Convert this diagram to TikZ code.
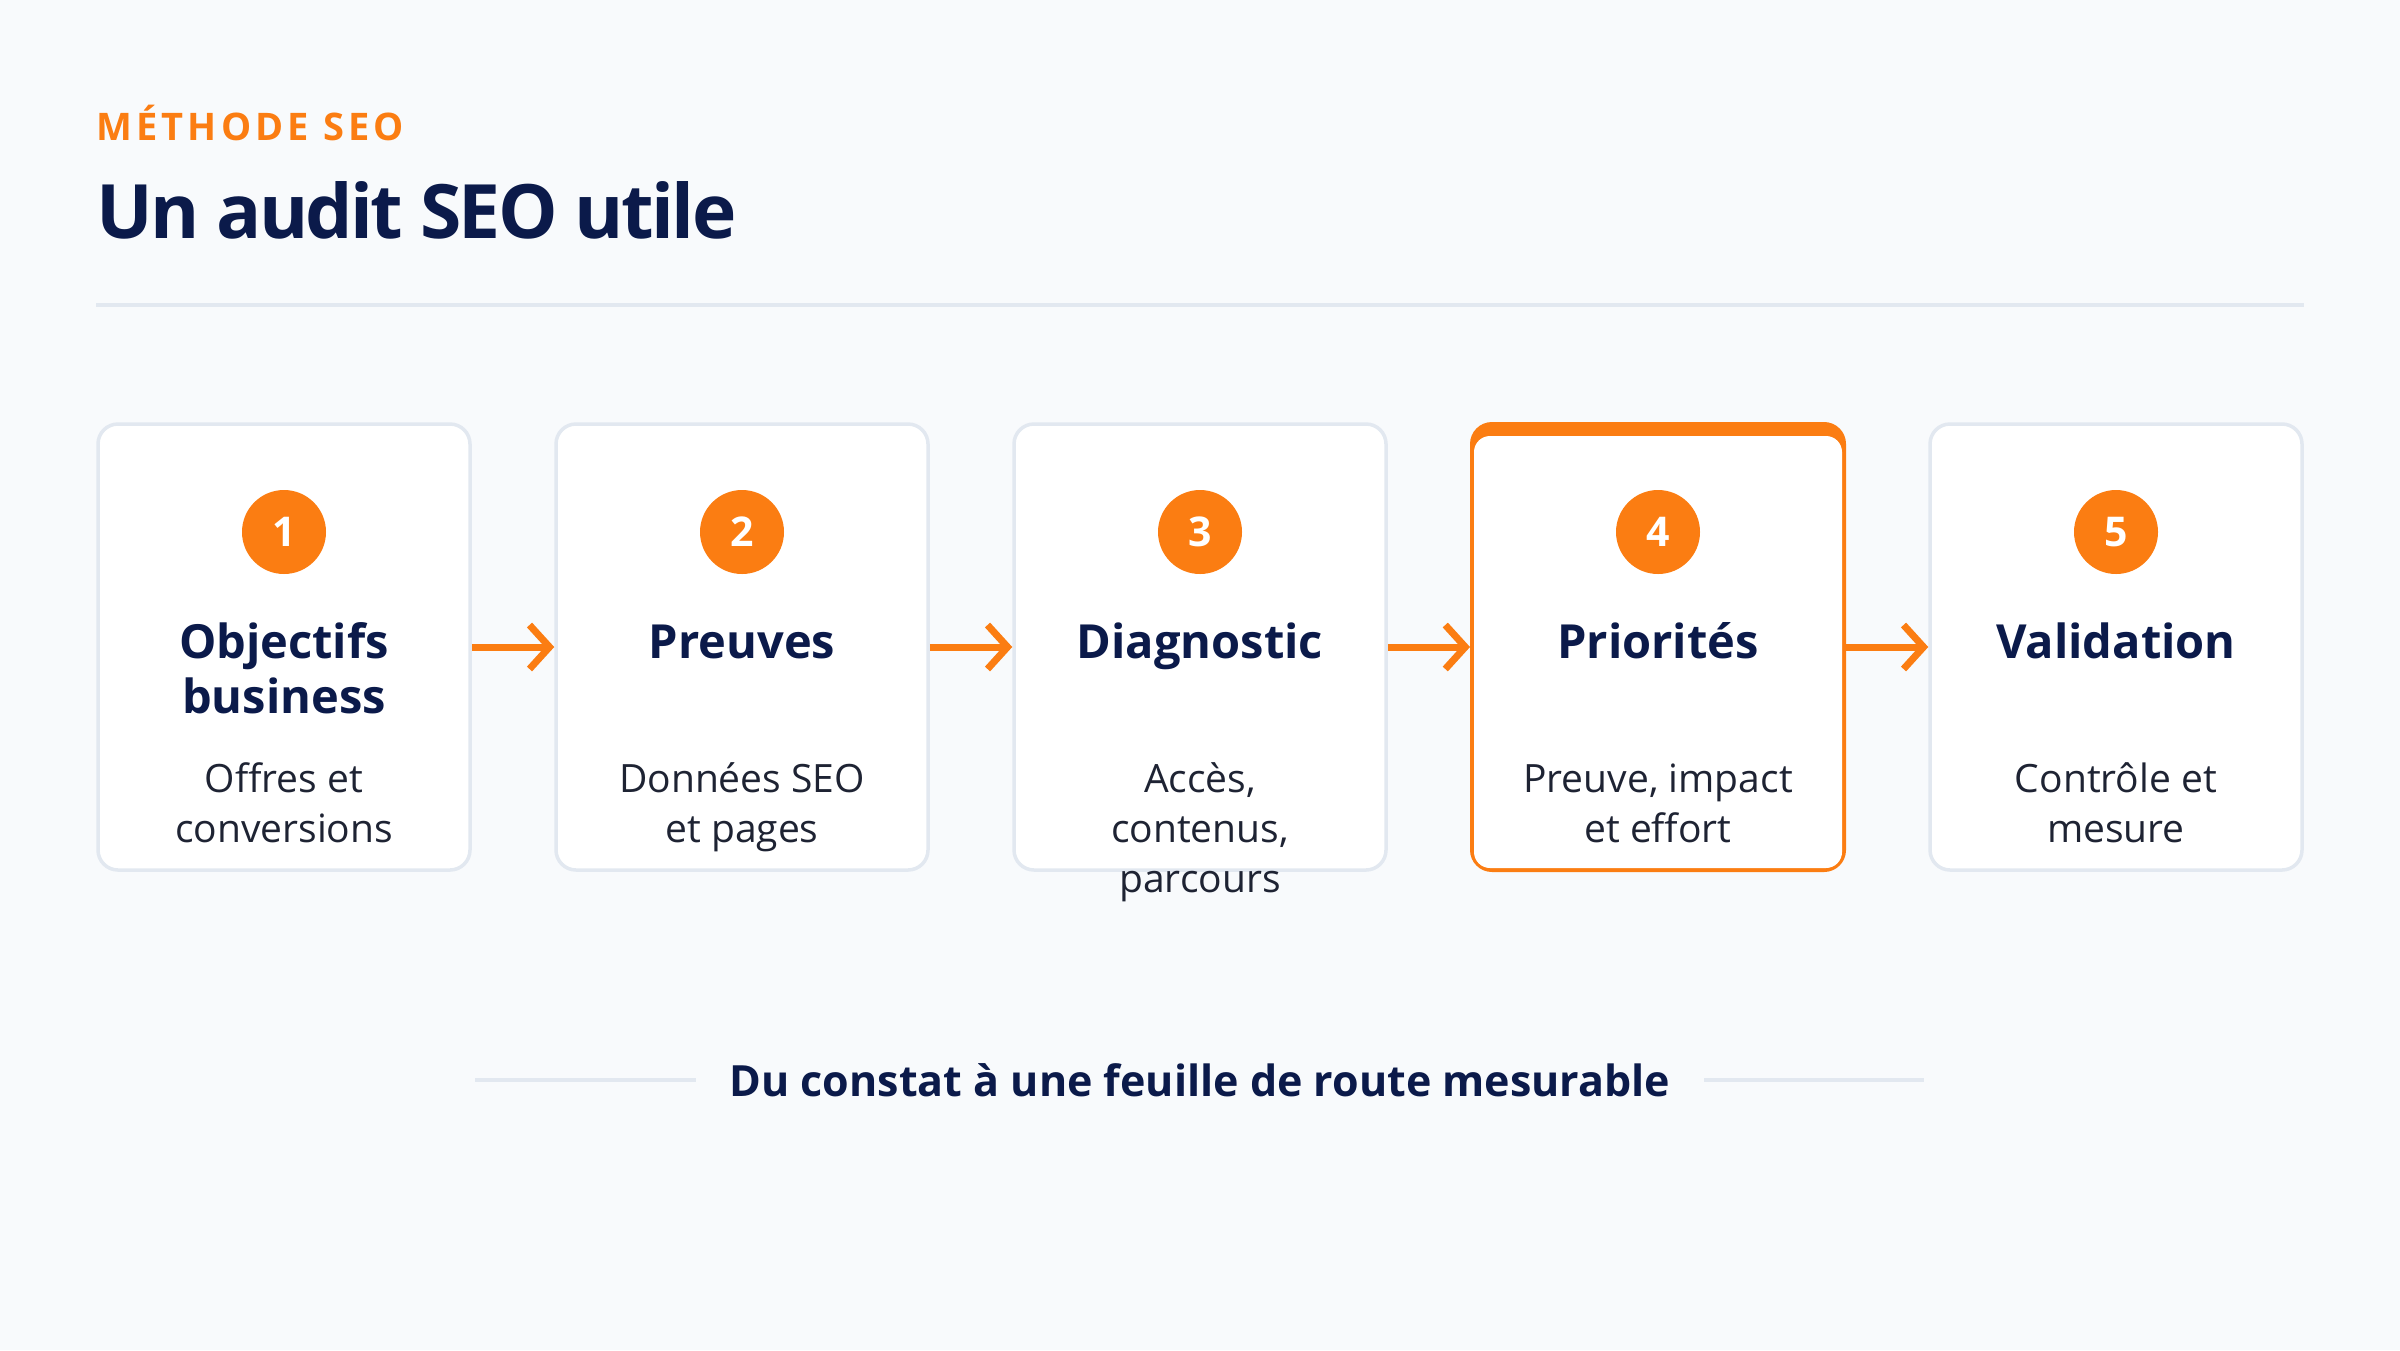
\documentclass[tikz,border=0pt]{standalone}
\usepackage{fontspec}
\setmainfont{Open Sans}
\usetikzlibrary{arrows.meta}
\definecolor{bg}{HTML}{F8FAFC}
\definecolor{ruleline}{HTML}{E2E8F0}
\definecolor{cardline}{HTML}{E2E8F0}
\definecolor{accent}{HTML}{FB7D12}
\definecolor{navy}{HTML}{0B1A4A}
\definecolor{desc}{HTML}{1E2333}
\tikzset{
  rulestyle/.style={draw=ruleline, line width=3.5pt},
  card/.style={rectangle, rounded corners=20pt, minimum width=372pt, minimum height=446pt, inner sep=0pt, fill=white, draw=cardline, line width=3.5pt},
  hicard/.style={card, draw=accent, fill=accent, line width=4pt},
  numdot/.style={circle, fill=accent, minimum size=84pt, inner sep=0pt, text=white, font=\fontsize{41}{48}\selectfont\bfseries},
  ttl/.style={anchor=north, inner sep=0pt, align=center, text=navy, font=\fontsize{47}{55}\selectfont\bfseries},
  dsc/.style={anchor=north, inner sep=0pt, align=center, text=desc, font=\fontsize{39}{50}\selectfont},
  flow/.style={draw=accent, line width=7pt, -{Straight Barb[length=20pt, width=44pt]}},
}
\begin{document}
\begin{tikzpicture}[x=1pt,y=-1pt]
\useasboundingbox[fill=bg] (0,0) rectangle (2400,1350);
% header
\node[anchor=base west, inner sep=0pt, text=accent, font=\fontsize{38}{44}\selectfont\bfseries\addfontfeature{LetterSpace=11}] (kicker) at (96,140) {MÉTHODE SEO};
\node[anchor=base west, inner sep=0pt, text=navy, font=\fontsize{75}{90}\selectfont\bfseries\addfontfeature{LetterSpace=-3.5}] (title) at (96,238) {Un audit SEO utile};
\coordinate (r1) at (96,305);
\coordinate (r2) at (2304,305);
\draw[rulestyle] (r1) -- (r2);
% cards
\node[card] (c1) at (284,647) {};
\node[card] (c2) at (742,647) {};
\node[card] (c3) at (1200,647) {};
\node[hicard] (c4) at (1658,647) {};
\fill[white, rounded corners=16pt] ([xshift=4pt,yshift=-14pt]c4.north west) rectangle ([xshift=-4pt,yshift=4pt]c4.south east);
\node[card] (c5) at (2116,647) {};
% arrows
\draw[flow] (c1.east) -- (c2.west);
\draw[flow] (c2.east) -- (c3.west);
\draw[flow] (c3.east) -- (c4.west);
\draw[flow] (c4.east) -- (c5.west);
% numbers
\node[numdot] (n1) at (284,532) {1};
\node[numdot] (n2) at (742,532) {2};
\node[numdot] (n3) at (1200,532) {3};
\node[numdot] (n4) at (1658,532) {4};
\node[numdot] (n5) at (2116,532) {5};
% titles
\node[ttl] (t1) at (284,619.5) {\strut Objectifs\\business};
\node[ttl] (t2) at (742,619.5) {\strut Preuves};
\node[ttl] (t3) at (1200,619.5) {\strut Diagnostic};
\node[ttl] (t4) at (1658,619.5) {\strut Priorités};
\node[ttl] (t5) at (2116,619.5) {\strut Validation};
% descriptions
\node[dsc] (d1) at (284,757) {\strut Offres et\\conversions};
\node[dsc] (d2) at (742,757) {\strut Données SEO\\et pages};
\node[dsc] (d3) at (1200,757) {\strut Accès,\\contenus,\\parcours};
\node[dsc] (d4) at (1658,757) {\strut Preuve, impact\\et effort};
\node[dsc] (d5) at (2116,757) {\strut Contrôle et\\mesure};
% tagline
\node[anchor=base, inner sep=0pt, text=navy, font=\fontsize{43}{54}\selectfont\bfseries] (tag) at (1200,1096) {Du constat à une feuille de route mesurable};
\coordinate (la) at (475,1080);
\coordinate (lb) at (696,1080);
\coordinate (ra) at (1704,1080);
\coordinate (rb) at (1924,1080);
\draw[rulestyle] (la) -- (lb);
\draw[rulestyle] (ra) -- (rb);
\end{tikzpicture}
\end{document}
